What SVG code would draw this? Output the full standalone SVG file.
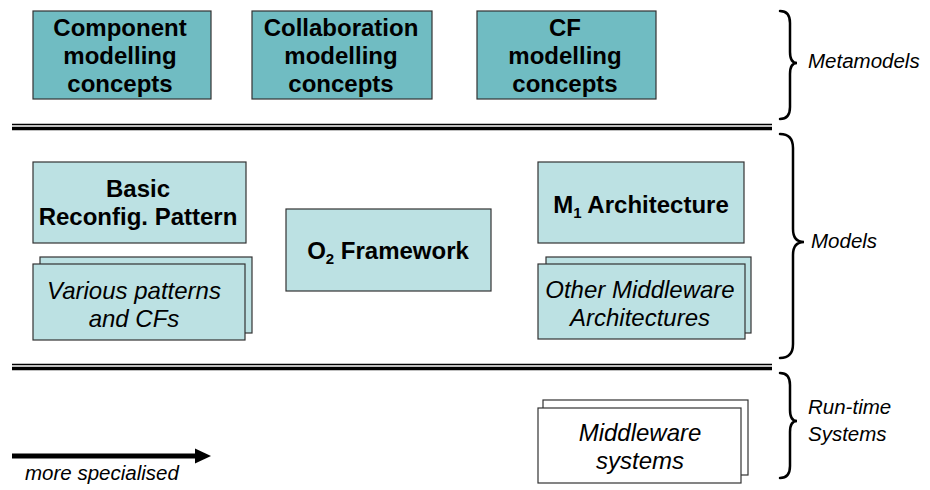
<svg xmlns="http://www.w3.org/2000/svg" width="930" height="490" viewBox="0 0 930 490">
<style>
.meta{fill:#70bcc2;stroke:#333;stroke-width:1.2}
.mod{fill:#bce1e3;stroke:#333;stroke-width:1.2}
.rt{fill:#fff;stroke:#333;stroke-width:1.2}
.b{font-family:"Liberation Sans",Arial,sans-serif;font-weight:bold;font-size:24px;fill:#000;text-anchor:middle}
.i{font-family:"Liberation Sans",Arial,sans-serif;font-style:italic;font-size:24px;fill:#000;text-anchor:middle}
.lab{font-family:"Liberation Sans",Arial,sans-serif;font-style:italic;font-size:20.5px;fill:#000}
.brace{fill:none;stroke:#000;stroke-width:2.5;stroke-linecap:round}
</style>
<rect width="930" height="490" fill="#fff"/>
<g id="separators">
<line x1="12" y1="124.5" x2="772" y2="124.5" stroke="#000" stroke-width="1.5"/>
<line x1="12" y1="128.5" x2="772" y2="128.5" stroke="#000" stroke-width="3.5"/>
<line x1="12" y1="364.5" x2="772" y2="364.5" stroke="#000" stroke-width="1.5"/>
<line x1="12" y1="368.5" x2="772" y2="368.5" stroke="#000" stroke-width="3.5"/>
</g>
<g id="braces">
<path class="brace" d="M780,11 Q790,11 790,23 L790,52 Q790,63 797,63 Q790,63 790,74 L790,107 Q790,119 780,119"/>
<path class="brace" d="M780,134 Q793,134 793,148 L793,229 Q793,242 804,242 Q793,242 793,255 L793,344 Q793,358 780,358"/>
<path class="brace" d="M780,373 Q790,373 790,385 L790,410 Q790,421 797,421 Q790,421 790,432 L790,466 Q790,478 780,478"/>
</g>
<g id="labels">
<text class="lab" x="808" y="68">Metamodels</text>
<text class="lab" x="811" y="248">Models</text>
<text class="lab" x="808" y="414">Run-time</text>
<text class="lab" x="808" y="441">Systems</text>
</g>
<g id="component">
<rect class="meta" x="33" y="11" width="178" height="88"/>
<text class="b" x="120" y="36">Component</text>
<text class="b" x="120" y="64">modelling</text>
<text class="b" x="120" y="92">concepts</text>
</g>
<g id="collaboration">
<rect class="meta" x="252" y="11" width="180" height="88"/>
<text class="b" x="341" y="36">Collaboration</text>
<text class="b" x="341" y="64">modelling</text>
<text class="b" x="341" y="92">concepts</text>
</g>
<g id="cf">
<rect class="meta" x="477" y="11" width="179" height="88"/>
<text class="b" x="565" y="36">CF</text>
<text class="b" x="565" y="64">modelling</text>
<text class="b" x="565" y="92">concepts</text>
</g>
<g id="basic">
<rect class="mod" x="33" y="162" width="213" height="81"/>
<text class="b" x="138" y="197">Basic</text>
<text class="b" x="138" y="225">Reconfig. Pattern</text>
</g>
<g id="various">
<rect class="mod" x="40" y="257" width="212" height="76"/>
<rect class="mod" x="33" y="264" width="212" height="76"/>
<text class="i" x="134" y="299">Various patterns</text>
<text class="i" x="134" y="327">and CFs</text>
</g>
<g id="o2">
<rect class="mod" x="286" y="209" width="205" height="82"/>
<text class="b" x="388" y="259">O<tspan font-size="15" dy="5">2</tspan><tspan dy="-5"> Framework</tspan></text>
</g>
<g id="m1">
<rect class="mod" x="538" y="162" width="206" height="81"/>
<text class="b" x="641" y="213">M<tspan font-size="15" dy="5">1</tspan><tspan dy="-5"> Architecture</tspan></text>
</g>
<g id="other">
<rect class="mod" x="546" y="257" width="205" height="76"/>
<rect class="mod" x="538" y="264" width="207" height="75"/>
<text class="i" x="640" y="298">Other Middleware</text>
<text class="i" x="640" y="326">Architectures</text>
</g>
<g id="middleware">
<rect class="rt" x="543" y="400" width="205" height="75"/>
<rect class="rt" x="538" y="408" width="203" height="75"/>
<text class="i" x="640" y="441">Middleware</text>
<text class="i" x="640" y="469">systems</text>
</g>
<g id="connectors">
<line x1="12" y1="456" x2="197" y2="456" stroke="#000" stroke-width="5"/>
<polygon points="195,448.5 211,456 195,463.5" fill="#000"/>
<text class="lab" x="25" y="480">more specialised</text>
</g>
</svg>
